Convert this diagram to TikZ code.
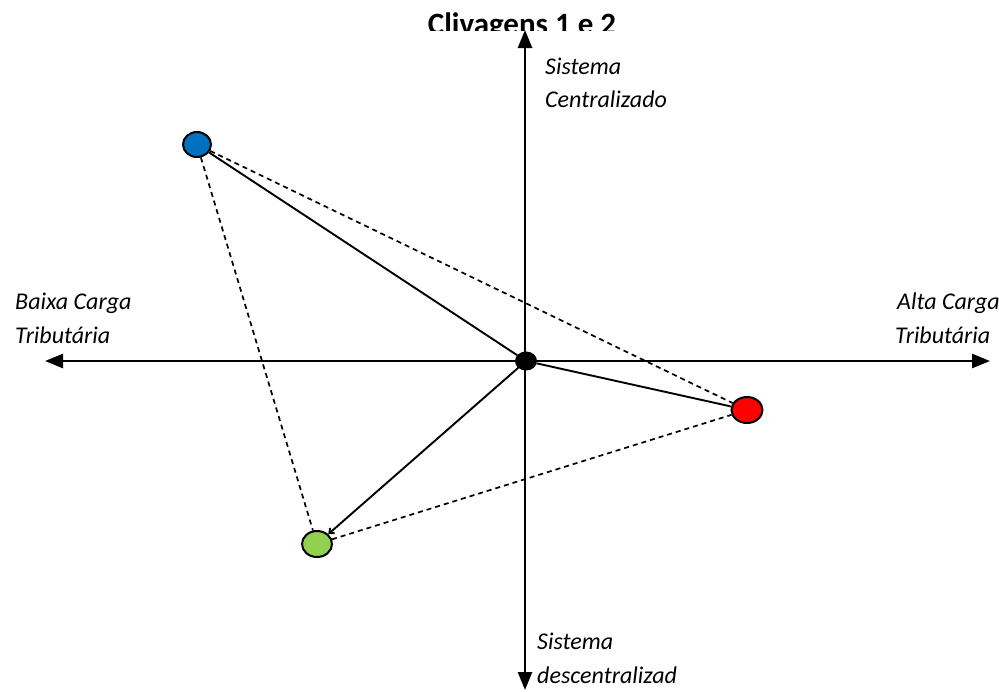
\documentclass[tikz,border=0pt]{standalone}
\usepackage{fontspec}
\setmainfont{Carlito}
\usetikzlibrary{arrows.meta,shapes.geometric}
\definecolor{cblue}{HTML}{0070C0}
\definecolor{cred}{HTML}{FF0000}
\definecolor{cgreen}{HTML}{92D050}
\tikzset{
  axis/.style={line width=2.6pt,-{Triangle[length=18pt,width=14pt]}},
  pt/.style={ellipse,draw=black,line width=2pt,inner sep=0pt},
  solidl/.style={line width=1.9pt},
  dashl/.style={line width=1.7pt,dash pattern=on 5pt off 4pt},
  lbl/.style={font=\fontsize{24}{32}\itshape\selectfont,anchor=base west,inner sep=0pt},
}
\begin{document}
\begin{tikzpicture}[x=1pt,y=-1pt]
\useasboundingbox (0,0) rectangle (999,691);
\fill[white] (0,0) rectangle (999,691);
% title clipped at bottom
\begin{scope}
\clip (0,0) rectangle (999,30);
\node[font=\fontsize{31}{36}\bfseries\selectfont,anchor=base,inner sep=0pt] (title) at (522,34) {Clivagens 1 e 2};
\end{scope}
% axes
\coordinate (L) at (45,361);
\coordinate (R) at (990,361);
\coordinate (T) at (525,30);
\coordinate (B) at (525,690);
\coordinate (C) at (525,361);
\draw[axis] (C) -- (L);
\draw[axis] (C) -- (R);
\draw[axis] (C) -- (T);
\draw[axis] (C) -- (B);
% points
\node[pt,fill=cblue,minimum width=28pt,minimum height=25pt] (blue) at (197,144.5) {};
\node[pt,fill=black,minimum width=20pt,minimum height=17pt] (orig) at (526,361) {};
\node[pt,fill=cred,minimum width=31pt,minimum height=26pt] (red) at (747,410) {};
\node[pt,fill=cgreen,minimum width=30pt,minimum height=26pt] (green) at (317,544) {};
% connectors
\draw[solidl] (blue) -- (orig);
\draw[solidl] (orig) -- (red);
\draw[solidl,-{Straight Barb[length=4pt,width=7pt]}] (orig) -- (green);
\draw[dashl] (blue) -- (red);
\draw[dashl] (blue) -- (green);
\draw[dashl] (green) -- (red);
% labels
\node[lbl] (ct1) at (545,74) {Sistema};
\node[lbl] (ct2) at (545,107) {Centralizado};
\node[lbl] (lf1) at (15,309) {Baixa Carga};
\node[lbl] (lf2) at (15,343) {Tributária};
\node[lbl] (rt1) at (897,309) {Alta Carga};
\node[lbl] (rt2) at (895,343) {Tributária};
\node[lbl] (bt1) at (537,649) {Sistema};
\node[lbl] (bt2) at (537,683) {descentralizad};
\end{tikzpicture}
\end{document}
